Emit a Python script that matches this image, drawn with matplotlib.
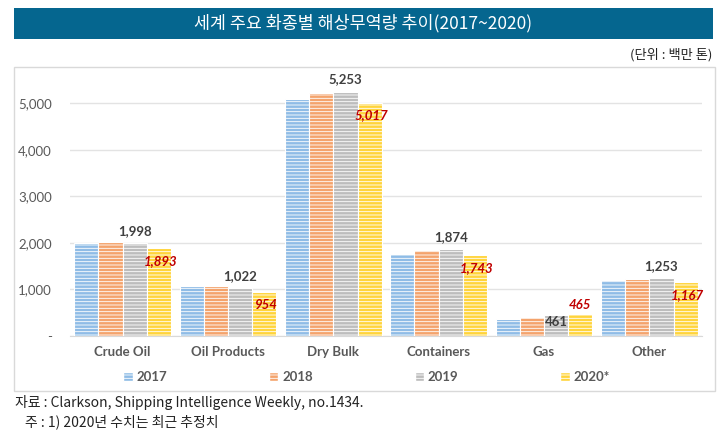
import matplotlib
matplotlib.use("Agg")
import matplotlib.pyplot as plt
from matplotlib.patches import Rectangle, Patch
import numpy as np

plt.rcParams['font.family'] = ['Noto Sans CJK KR', 'DejaVu Sans']
plt.rcParams['hatch.linewidth'] = 0.6

categories = ["Crude Oil", "Oil Products", "Dry Bulk", "Containers", "Gas", "Other"]
years = ["2017", "2018", "2019", "2020*"]
v2017 = [2005, 1068, 5085, 1770, 362, 1200]
v2018 = [2028, 1068, 5225, 1845, 400, 1232]
v2019 = [1998, 1022, 5253, 1874, 461, 1253]
v2020 = [1893, 954, 5017, 1743, 465, 1167]
yticks = [0, 1000, 2000, 3000, 4000, 5000]
ytick_labels = ["-", "1,000", "2,000", "3,000", "4,000", "5,000"]

colors = ["#8FBCE6", "#F4A36C", "#BDBDBD", "#FFD43B"]
series = [v2017, v2018, v2019, v2020]
LAT = ["Lato", "DejaVu Sans"]

W, H = 724, 442
fig = plt.figure(figsize=(W / 100, H / 100), dpi=100)

def fx(px):
    return px / W

def fy(py):
    return 1 - py / H

# Title banner
fig.patches.append(Rectangle((fx(14), fy(39)), fx(713) - fx(14), fy(8) - fy(39),
                             transform=fig.transFigure, facecolor="#05668F", edgecolor="none", zorder=-2))
fig.text(fx(363), fy(23.5), "세계 주요 화종별 해상무역량 추이(2017~2020)", color="white",
         fontsize=12.5, fontweight="medium", ha="center", va="center")
fig.text(fx(712), fy(55), "(단위 : 백만 톤)", color="#222222", fontsize=9.5, ha="right", va="center")

# Chart box
fig.patches.append(Rectangle((fx(14), fy(391)), fx(715) - fx(14), fy(67) - fy(391),
                             transform=fig.transFigure, facecolor="white", edgecolor="#D9D9D9", lw=1.0,
                             zorder=-2))

ax_top, ax_bot = 75, 336
ax = fig.add_axes([fx(70), fy(ax_bot), fx(702) - fx(70), fy(ax_top) - fy(ax_bot)])
ymax = 5000 * (ax_bot - ax_top) / (ax_bot - 103.3)
ax.set_ylim(0, ymax)
x = np.arange(len(categories))
bw = 0.23
offsets = [-1.5, -0.5, 0.5, 1.5]
for s, c, o, lab in zip(series, colors, offsets, years):
    ax.bar(x + o * bw, s, width=bw, color=c, edgecolor="white", linewidth=0.8,
           hatch="-----", label=lab, zorder=3)

ax.set_xlim(-0.5, len(categories) - 0.5)
ax.set_yticks(yticks)
ax.set_yticklabels(ytick_labels, color="#595959", fontsize=9.5, family=LAT)
ax.set_xticks(x)
ax.set_xticklabels(categories, color="#595959", fontsize=9.5, fontweight="bold", family=LAT)
ax.tick_params(axis="y", length=0, pad=13)
ax.tick_params(axis="x", length=0, pad=7)
for sp in ["top", "right", "left"]:
    ax.spines[sp].set_visible(False)
ax.spines["bottom"].set_color("#D9D9D9")
ax.grid(axis="y", color="#E3E3E3", linewidth=1.0, zorder=0)
ax.set_axisbelow(True)
ax.patch.set_alpha(0)

for i, cat in enumerate(categories):
    if cat == "Gas":
        d19, d20, dx20 = -7, 9, 0
    else:
        d19, d20, dx20 = 12, -13, 2
    ax.annotate(f"{v2019[i]:,}", (x[i] + 0.5 * bw, v2019[i]), xytext=(0, d19),
                textcoords="offset pixels", ha="center", va="center",
                color="#404040", fontsize=9.5, fontweight="bold", family=LAT, zorder=5)
    ax.annotate(f"{v2020[i]:,}", (x[i] + 1.5 * bw, v2020[i]), xytext=(dx20, d20),
                textcoords="offset pixels", ha="center", va="center",
                color="#C00000", fontsize=9.5, fontweight="bold", style="italic", family=LAT, zorder=5)

handles = [Patch(facecolor=c, edgecolor="white", hatch="-----", label=l) for c, l in zip(colors, years)]
leg = fig.legend(handles=handles, loc="center left", bbox_to_anchor=(fx(118), fy(377), fx(615) - fx(118), 0),
                 mode="expand", ncol=4, frameon=False, handlelength=0.7, handleheight=0.7,
                 handletextpad=0.3, borderaxespad=0, prop={"family": LAT, "size": 9.5, "weight": "bold"})
for t in leg.get_texts():
    t.set_color("#595959")

fig.text(fx(15), fy(403), "자료 : Clarkson, Shipping Intelligence Weekly, no.1434.", color="#222222",
         fontsize=10, ha="left", va="center")
fig.text(fx(25), fy(422), "주 : 1) 2020년 수치는 최근 추정치", color="#222222",
         fontsize=10, ha="left", va="center")

fig.savefig("out.png", dpi=100)
